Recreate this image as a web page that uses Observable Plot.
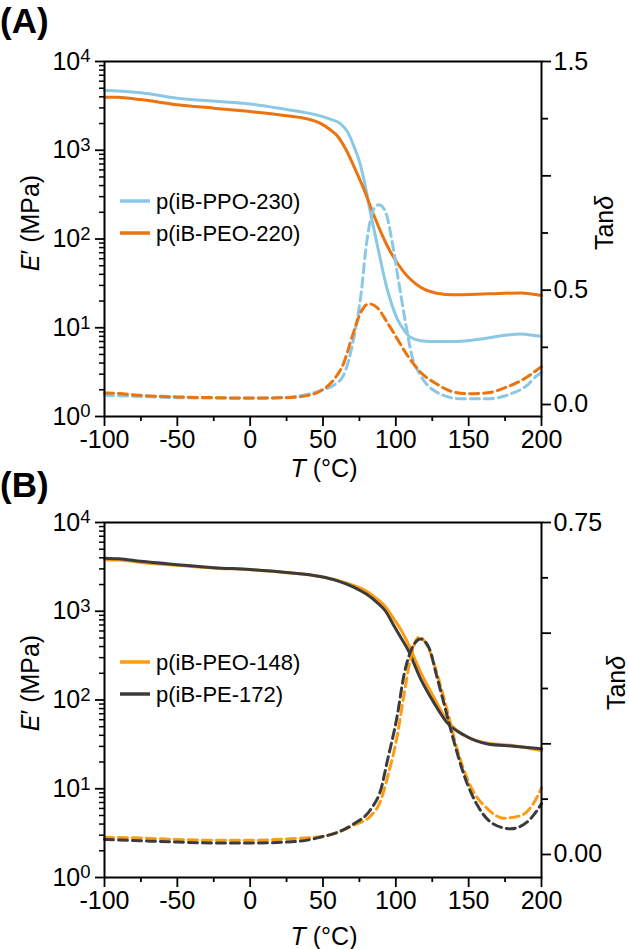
<!DOCTYPE html>
<html><head><meta charset="utf-8">
<script src="https://cdn.jsdelivr.net/npm/d3@7"></script>
<script src="https://cdn.jsdelivr.net/npm/@observablehq/plot@0.6"></script>
<style>
body{margin:0;background:#fff;}
#wrap{position:relative;width:629px;height:949px;font-family:"Liberation Sans",Arial,sans-serif;}
#wrap svg{position:absolute;left:0;overflow:visible;background:none;}
</style></head><body><div id="wrap"></div>
<script>
// ---------- Panel A data ----------
const T_A_ppoE = [-100, -90, -75, -50, -25, 0, 25, 40, 48, 55, 62, 67, 71, 75, 78, 82.5, 87, 94, 101, 106, 110, 118, 128, 140, 151, 162, 174, 186, 195, 200];
const E_A_ppo  = [4700, 4650, 4440, 3860, 3580, 3320, 2880, 2620, 2440, 2240, 1990, 1600, 1130, 750, 476, 200, 90, 27.5, 12.6, 9.2, 7.8, 7.1, 7.0, 7.0, 7.2, 7.6, 8.2, 8.5, 8.2, 8.0];
const T_A_peoE = [-100, -91, -75, -50, -25, 0, 25, 40, 48, 55, 60, 66, 71, 78, 85, 94, 105.5, 117, 128, 140, 163, 186, 200];
const E_A_peo  = [3960, 3950, 3720, 3250, 2980, 2730, 2450, 2240, 2020, 1700, 1440, 1000, 673, 367, 184, 84.5, 42.3, 28.6, 24.5, 23.5, 24.1, 24.7, 23.1];
const T_A_ppoTan = [-100, -90, -75, -50, -25, 0, 25, 40, 48, 57, 64, 71, 76, 80, 85, 88.3, 93, 97.5, 102, 106.6, 111, 117, 128, 144, 163, 179, 190, 197, 200];
const tan_A_ppo  = [0.040, 0.038, 0.035, 0.030, 0.028, 0.027, 0.032, 0.045, 0.061, 0.083, 0.127, 0.287, 0.477, 0.71, 0.856, 0.873, 0.841, 0.71, 0.535, 0.36, 0.214, 0.127, 0.054, 0.025, 0.025, 0.047, 0.083, 0.127, 0.14];
const T_A_peoTan = [-100, -90, -75, -50, -25, 0, 25, 40, 48, 57, 64, 71, 76, 81.5, 87, 94, 101, 108, 117, 128, 140, 151, 163, 176, 188, 198, 200];
const tan_A_peo  = [0.051, 0.048, 0.040, 0.033, 0.030, 0.028, 0.030, 0.040, 0.058, 0.105, 0.178, 0.316, 0.404, 0.44, 0.425, 0.36, 0.287, 0.214, 0.141, 0.09, 0.054, 0.047, 0.051, 0.076, 0.112, 0.156, 0.165];

// ---------- Panel B data ----------
const T_B_E = [-100, -90, -75, -50, -25, 0, 25, 48, 60, 71, 80, 87, 93, 98.6, 103, 108, 117, 126, 135, 147, 163, 181, 200];
const E_B_peo = [3800, 3780, 3550, 3300, 3080, 2930, 2720, 2460, 2230, 1950, 1680, 1380, 1120, 822, 640, 448, 206, 108, 59, 40, 32.5, 30.6, 27];
const E_B_pe  = [3960, 3900, 3650, 3350, 3100, 2950, 2730, 2460, 2200, 1870, 1550, 1260, 1000, 690, 520, 377, 173, 94, 56, 40, 32, 30.2, 28.2];
const T_B_peTan = [-100, -75, -50, -25, 0, 25, 40, 48, 60, 71, 83, 90, 94, 101, 105.5, 111, 117, 123, 128, 134, 140, 147, 156, 167, 179, 190, 196, 200];
const tan_B_pe  = [0.034, 0.031, 0.028, 0.026, 0.026, 0.028, 0.033, 0.039, 0.05, 0.069, 0.103, 0.15, 0.209, 0.314, 0.404, 0.465, 0.487, 0.465, 0.404, 0.329, 0.254, 0.178, 0.111, 0.069, 0.058, 0.073, 0.095, 0.115];
const T_B_peoTan = [-100, -75, -50, -25, 0, 25, 40, 48, 60, 71, 83, 90, 94, 101, 105.5, 110, 116, 121.6, 128, 135, 142, 151, 163, 174, 186, 195, 200];
const tan_B_peo  = [0.039, 0.037, 0.034, 0.032, 0.032, 0.035, 0.038, 0.040, 0.050, 0.066, 0.088, 0.125, 0.171, 0.269, 0.359, 0.442, 0.491, 0.472, 0.412, 0.329, 0.239, 0.156, 0.103, 0.082, 0.088, 0.118, 0.15];

// ---------- ticks ----------
const xMajor = [-100, -50, 0, 50, 100, 150, 200];
const xMinor = [-75, -25, 25, 75, 125, 175];
const logMajor = [1, 10, 100, 1000, 10000];
const logMinor = [0, 1, 2, 3].flatMap(p => [2, 3, 4, 5, 6, 7, 8, 9].map(m => m * Math.pow(10, p)));
const tanA_major = [0, 0.5, 1.0, 1.5], tanA_labels = ["0.0", "0.5", "1.0", "1.5"], tanA_minor = [0.25, 0.75, 1.25];
const tanB_major = [0, 0.25, 0.5, 0.75], tanB_labels = ["0.00", "0.25", "0.50", "0.75"], tanB_minor = [0.125, 0.375, 0.625];

const colA_ppo = "#8ac8e6", colA_peo = "#ea7410", colB_peo = "#ff9b12", colB_pe = "#3b3b3b";

function rows(T, v) { return T.map((t, i) => ({T: t, v: v[i]})); }

function panel(cfg) {
  const tanMap = t => Math.pow(10, 4 * (t - cfg.t0) / (cfg.t1 - cfg.t0));
  const labelMap = new Map(cfg.tanMajor.map((t, i) => [tanMap(t), cfg.tanLabels[i]]));
  const marks = [];
  for (const s of cfg.series) {
    marks.push(Plot.line(rows(s.T, s.v), {
      x: "T",
      y: s.tan ? d => tanMap(d.v) : "v",
      stroke: s.color, strokeWidth: 3,
      strokeDasharray: s.tan ? "9,5" : null,
      curve: "monotone-x"
    }));
  }
  marks.push(
    Plot.axisX(xMajor, {anchor: "bottom", tickSize: 10, tickPadding: 4, label: null, strokeWidth: 1.8, fontSize: 25,
      tickFormat: d => String(d)}),
    Plot.axisX(xMinor, {anchor: "bottom", tickSize: 5, tickFormat: () => "", label: null, strokeWidth: 1.8}),
    Plot.axisY(logMajor, {anchor: "left", tickSize: 9, tickPadding: 5, label: null, strokeWidth: 1.8, fontSize: 25,
      tickFormat: d => "10^" + Math.round(Math.log10(d))}),
    Plot.axisY(logMinor, {anchor: "left", tickSize: 5, tickFormat: () => "", label: null, strokeWidth: 1.5}),
    Plot.axisY(cfg.tanMajor.map(tanMap), {anchor: "right", tickSize: 9, tickPadding: 3, label: null, strokeWidth: 1.8, fontSize: 25,
      tickFormat: d => labelMap.get(d)}),
    Plot.axisY(cfg.tanMinor.map(tanMap), {anchor: "right", tickSize: 6, tickFormat: () => "", label: null, strokeWidth: 1.8}),
    Plot.frame({stroke: "black", strokeWidth: 2})
  );
  const svg = Plot.plot({
    width: 629, height: cfg.height,
    marginTop: cfg.mt, marginBottom: cfg.mb, marginLeft: 104, marginRight: 88,
    style: {fontFamily: "'Liberation Sans', Arial, sans-serif", fontSize: "25px", background: "none", overflow: "visible", color: "black"},
    x: {domain: [-100, 200], axis: null},
    y: {type: "log", domain: [1, 10000], axis: null},
    marks
  });
  const s = d3.select(svg);
  // superscript exponents
  s.selectAll("text").each(function() {
    const m = /^10\^(\d)$/.exec(this.textContent);
    if (m) {
      const t = d3.select(this);
      t.text("");
      t.append("tspan").text("10");
      t.append("tspan").attr("dy", "-0.38em").attr("font-size", "0.74em").text(m[1]);
    }
  });
  const ff = "'Liberation Sans', Arial, sans-serif";
  // panel letter
  s.append("text").attr("x", 0).attr("y", cfg.letterY).attr("font-size", 35).attr("font-weight", "bold")
    .attr("text-anchor", "start").attr("font-family", ff).text(cfg.letter);
  // left title
  const lt = s.append("text").attr("transform", `translate(39,${cfg.titleY}) rotate(-90)`).attr("text-anchor", "middle")
    .attr("font-size", 25).attr("font-family", ff);
  lt.append("tspan").attr("font-style", "italic").text("E");
  lt.append("tspan").text("\u2032 (MPa)");
  // right title
  const rt = s.append("text").attr("transform", `translate(${cfg.rtX},${cfg.titleY}) rotate(-90)`).attr("text-anchor", "middle")
    .attr("font-size", 25).attr("font-family", ff);
  rt.append("tspan").text("Tan");
  rt.append("tspan").attr("font-style", "italic").text("\u03b4");
  // bottom title
  const bt = s.append("text").attr("x", 324).attr("y", cfg.xTitleY).attr("text-anchor", "middle")
    .attr("font-size", 25).attr("font-family", ff);
  bt.append("tspan").attr("font-style", "italic").text("T");
  bt.append("tspan").text(" (\u00b0C)");
  // legend
  cfg.legend.forEach((L, i) => {
    const y = cfg.legY + i * 32;
    s.append("line").attr("x1", 120).attr("x2", 150).attr("y1", y).attr("y2", y)
      .attr("stroke", L.color).attr("stroke-width", 3.5);
    s.append("text").attr("x", 156).attr("y", y + 8).attr("font-size", 22).attr("text-anchor", "start")
      .attr("font-family", ff).text(L.label);
  });
  return svg;
}

const svgA = panel({
  height: 470, mt: 61, mb: 54, t0: -0.0525, t1: 1.5,
  tanMajor: tanA_major, tanLabels: tanA_labels, tanMinor: tanA_minor,
  series: [
    {T: T_A_ppoE, v: E_A_ppo, color: colA_ppo},
    {T: T_A_peoE, v: E_A_peo, color: colA_peo},
    {T: T_A_ppoTan, v: tan_A_ppo, color: colA_ppo, tan: true},
    {T: T_A_peoTan, v: tan_A_peo, color: colA_peo, tan: true}
  ],
  letter: "(A)", letterY: 33, titleY: 223, rtX: 613, xTitleY: 477, legY: 201,
  legend: [{label: "p(iB-PPO-230)", color: colA_ppo}, {label: "p(iB-PEO-220)", color: colA_peo}]
});
const svgB = panel({
  height: 479, mt: 52, mb: 72, t0: -0.052, t1: 0.75,
  tanMajor: tanB_major, tanLabels: tanB_labels, tanMinor: tanB_minor,
  series: [
    {T: T_B_E, v: E_B_peo, color: colB_peo},
    {T: T_B_E, v: E_B_pe, color: colB_pe},
    {T: T_B_peoTan, v: tan_B_peo, color: colB_peo, tan: true},
    {T: T_B_peTan, v: tan_B_pe, color: colB_pe, tan: true}
  ],
  letter: "(B)", letterY: 27, titleY: 213, rtX: 625, xTitleY: 475, legY: 192,
  legend: [{label: "p(iB-PEO-148)", color: colB_peo}, {label: "p(iB-PE-172)", color: colB_pe}]
});
svgA.style.top = "0px";
svgB.style.top = "470px";
document.getElementById("wrap").append(svgA, svgB);
</script></body></html>
